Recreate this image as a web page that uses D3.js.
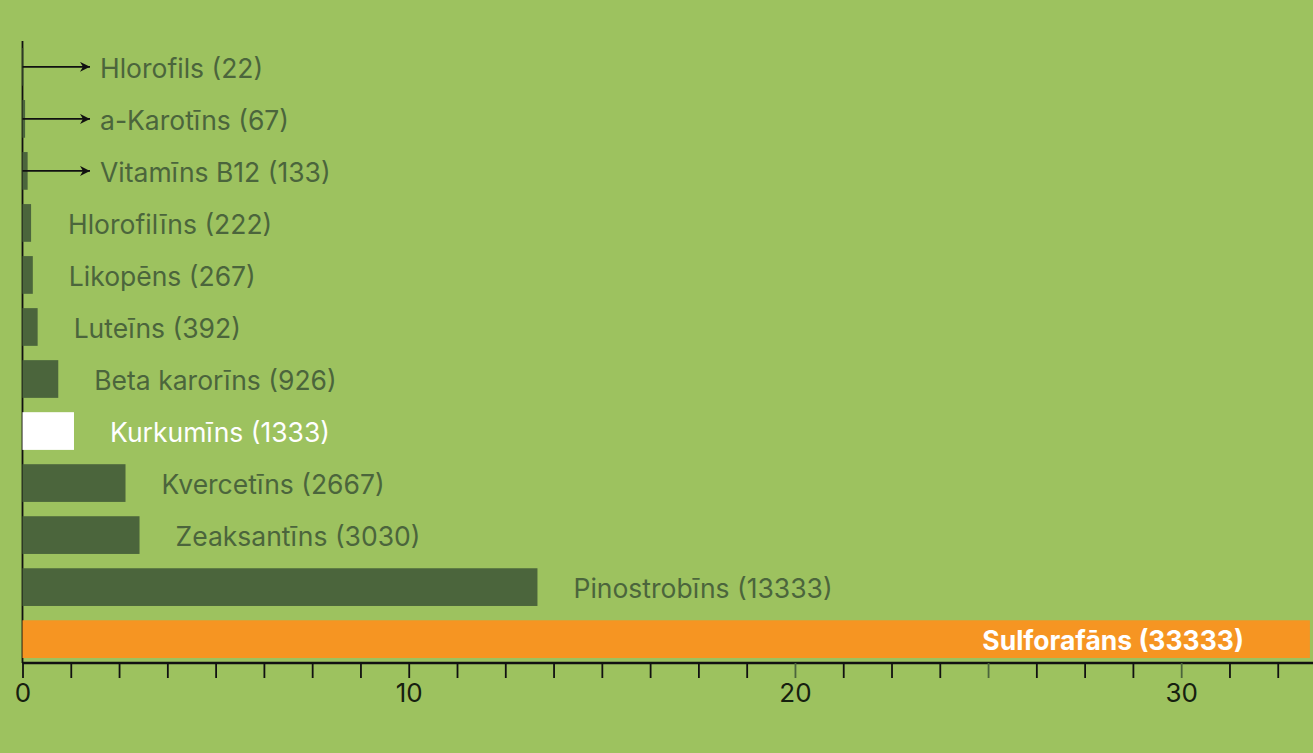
<!DOCTYPE html>
<html>
<head>
<meta charset="utf-8">
<script src="https://cdn.jsdelivr.net/npm/d3@7"></script>
<style>
  body { margin: 0; background: #9dc25f; }
  svg { display: block; }
  text { font-family: Inter, "Noto Sans", sans-serif; }
</style>
</head>
<body>
<div class="chart"></div>
<script>
var names = ["Hlorofils", "a-Karotīns", "Vitamīns B12", "Hlorofilīns", "Likopēns", "Luteīns",
    "Beta karorīns", "Kurkumīns", "Kvercetīns", "Zeaksantīns", "Pinostrobīns", "Sulforafāns"];
var values = [22, 67, 133, 222, 267, 392, 926, 1333, 2667, 3030, 13333, 33333];
var tickStep = 1250;
var tickLabels = [0, 10000, 20000, 30000];

var width = 1313, height = 753;
var green = "#4b653c";

var data = names.map(function (n, i) { return { name: n, value: values[i] }; });

var svg = d3.select(".chart")
    .append("svg")
    .attr("width", width)
    .attr("height", height);

svg.append("defs").append("marker")
    .attr("id", "arrow")
    .attr("viewBox", "0 0 10 10")
    .attr("refX", 10)
    .attr("refY", 5)
    .attr("markerWidth", 13)
    .attr("markerHeight", 10)
    .attr("markerUnits", "userSpaceOnUse")
    .attr("orient", "auto")
    .append("path")
    .attr("d", "M0,0 L10,5 L0,10 L3,5 Z")
    .attr("fill", "#111");

var x = d3.scaleLinear()
    .domain([0, 33400])
    .range([22.5, 1312.5]);

var y = d3.scaleBand()
    .domain(names)
    .range([48, 658])
    .paddingInner(0.275)
    .paddingOuter(0);

// vertical axis line
svg.append("line")
    .attr("x1", 22.5).attr("x2", 22.5)
    .attr("y1", 41).attr("y2", 663)
    .attr("stroke", "#111")
    .attr("stroke-width", 1.8);

function barColor(d) {
    if (d.name == "Sulforafāns") return "#f69522";
    if (d.name == "Kurkumīns") return "#ffffff";
    return green;
}

svg.append("g")
    .selectAll("rect")
    .data(data)
    .enter()
    .append("rect")
    .attr("x", x(0))
    .attr("y", function (d) { return y(d.name); })
    .attr("width", function (d) { return x(d.value) - x(0); })
    .attr("height", y.bandwidth())
    .attr("fill", barColor);

// arrows for the tiny ones
svg.append("g")
    .selectAll("line")
    .data(data.filter(function (d) { return d.value < 200; }))
    .enter()
    .append("line")
    .attr("x1", 22.5)
    .attr("x2", 90)
    .attr("y1", function (d) { return y(d.name) + y.bandwidth() / 2; })
    .attr("y2", function (d) { return y(d.name) + y.bandwidth() / 2; })
    .attr("stroke", "#111")
    .attr("stroke-width", 1.6)
    .attr("marker-end", "url(#arrow)");

svg.append("g")
    .selectAll("text")
    .data(data)
    .enter()
    .append("text")
    .attr("x", function (d) {
        if (d.name == "Sulforafāns") return x(d.value) - 66;
        if (d.value < 200) return 100;
        return Math.max(68, x(d.value) + 36);
    })
    .attr("y", function (d) { return y(d.name) + y.bandwidth() / 2; })
    .attr("dy", "0.42em")
    .attr("text-anchor", function (d) { return d.name == "Sulforafāns" ? "end" : "start"; })
    .attr("font-size", 26.5)
    .attr("font-weight", function (d) { return d.name == "Sulforafāns" ? 700 : 400; })
    .attr("fill", function (d) {
        if (d.name == "Sulforafāns" || d.name == "Kurkumīns") return "#ffffff";
        return green;
    })
    .text(function (d) { return d.name + " (" + d.value + ")"; });

var axis = d3.axisBottom(x)
    .tickValues(d3.range(0, 33400, tickStep))
    .tickSize(15)
    .tickSizeOuter(0)
    .tickPadding(6)
    .tickFormat(function (v) { return tickLabels.indexOf(v) >= 0 ? v / 1000 : ""; });

var gx = svg.append("g")
    .attr("transform", "translate(0,663)")
    .call(axis);

gx.select(".domain")
    .attr("d", "M22.5,0H" + width)
    .attr("stroke", "#111")
    .attr("stroke-width", 2.6);

gx.selectAll(".tick line")
    .attr("stroke", function (v) { return (v >= 20000 && v % 5000 == 0) ? green : "#111"; })
    .attr("stroke-width", 1.8);

gx.selectAll(".tick text")
    .attr("font-family", "Inter, 'Noto Sans', sans-serif")
    .attr("font-size", 26)
    .attr("fill", "#16200f");
</script>
</body>
</html>
